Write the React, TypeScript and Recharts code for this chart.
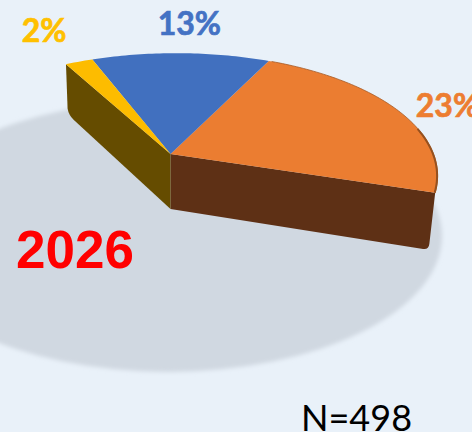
import React from "react";
import { PieChart, Pie } from "recharts";

const W = 472;
const H = 432;

const SLICES = ["Orange", "Blue", "Yellow", "Other"];
const SHARES = [23, 13, 2, 62];
const TOP_COLORS = ["#eb7d31", "#4170bf", "#fdbc00", "none"];
const SIDE_COLORS = ["#5e3015", "#654c00"];
const LABEL_COLORS = ["#ed7d31", "#4472c4", "#ffc000"];
const LABEL_REACH = [1.24, 1.3, 1.36];
const LABEL_SHIFT = [
  [-2, 7],
  [5, 0],
  [-2, 1],
];

const data = SLICES.map((name, i) => ({ name, value: SHARES[i] }));
const shadowData = [{ name: "shadow", value: 100 }];

const TILT = 0.46;
const SKEW = 0.026;
const NEAR = 0.2;
const DEPTH = 55;

// circle angle -> tilted disc, far side squeezed like a perspective view
function project(cx: number, cy: number, r: number, deg: number) {
  const a = (deg * Math.PI) / 180;
  const w = 1 + NEAR * Math.sin(a);
  return {
    x: cx + (r * Math.cos(a) + r * SKEW * Math.sin(a)) / w,
    y: cy - (r * TILT * Math.sin(a)) / w,
  };
}

function lower(cx: number, cy: number, p: { x: number; y: number }) {
  return { x: cx + (p.x - cx) * 0.975, y: cy + DEPTH + (p.y - cy) * 1.05 };
}

function arcPath(cx: number, cy: number, r: number, from: number, to: number) {
  let d = "";
  for (let deg = from; deg <= to; deg += 1) {
    const p = project(cx, cy, r, deg);
    d += `${d ? "L" : "M"}${p.x},${p.y}`;
  }
  return d;
}

function wedgePath(cx: number, cy: number, r: number, from: number, to: number) {
  const end = project(cx, cy, r, to);
  return `M${cx},${cy}L${arcPath(cx, cy, r, from, to).slice(1)}L${end.x},${end.y}Z`;
}

function SliceShape(props: any) {
  const { cx, cy, outerRadius, startAngle, endAngle, index } = props;
  if (index === 3) return null;
  const from = Math.min(startAngle, endAngle);
  const to = Math.max(startAngle, endAngle);
  const c2 = { x: cx, y: cy + DEPTH };
  let wall = null;
  if (index === 0) {
    const e = project(cx, cy, outerRadius, from);
    const e2 = lower(cx, cy, e);
    wall = (
      <path
        d={`M${cx},${cy}L${e.x},${e.y}L${e2.x + 0.8},${e2.y - 6}Q${e2.x},${e2.y + 1} ${e2.x - 7},${e2.y - 1}L${c2.x},${c2.y}Z`}
        fill={SIDE_COLORS[0]}
      />
    );
  }
  if (index === 2) {
    const y = project(cx, cy, outerRadius, to);
    const y2 = lower(cx, cy, y);
    wall = (
      <path
        d={`M${cx},${cy}L${y.x},${y.y}L${y2.x - 1},${y2.y - 6}Q${y2.x},${y2.y} ${y2.x + 5},${y2.y + 5}L${c2.x},${c2.y}Z`}
        fill={SIDE_COLORS[1]}
      />
    );
  }
  return (
    <g>
      {wall}
      <path d={wedgePath(cx, cy, outerRadius, from, to)} fill={TOP_COLORS[index]} />
      {index === 0 && (
        <>
          <path d={arcPath(cx, cy, outerRadius, from, to)} fill="none" stroke="#a65a26" strokeWidth={0.8} />
          <path d={arcPath(cx, cy, outerRadius - 0.5, from, from + 30)} fill="none" stroke="#96511f" strokeWidth={2} />
        </>
      )}
    </g>
  );
}

function ShadowShape(props: any) {
  const { cx, cy, outerRadius } = props;
  return (
    <g>
      <defs>
        <filter id="soft" x="-10%" y="-10%" width="120%" height="120%">
          <feGaussianBlur stdDeviation="2" />
        </filter>
      </defs>
      <ellipse
        cx={cx}
        cy={cy}
        rx={outerRadius}
        ry={outerRadius * 0.496}
        fill="#d0d8e1"
        filter="url(#soft)"
      />
    </g>
  );
}

function renderLabel(props: any) {
  const { cx, cy, outerRadius, midAngle, value, index } = props;
  if (index === 3) return null;
  const p = project(cx, cy, outerRadius * LABEL_REACH[index], midAngle);
  return (
    <text
      x={p.x + LABEL_SHIFT[index][0]}
      y={p.y + LABEL_SHIFT[index][1]}
      textAnchor="middle"
      dominantBaseline="central"
      fill={LABEL_COLORS[index]}
      stroke={LABEL_COLORS[index]}
      strokeWidth={0.7}
      fontFamily="Lato"
      fontWeight={700}
      fontSize={32}
    >
      {`${value}%`}
    </text>
  );
}

export default function App() {
  return (
    <div
      style={{
        position: "absolute",
        left: 0,
        top: 0,
        width: W,
        height: H,
        overflow: "hidden",
        background: "#e9f1f9",
      }}
    >
      <PieChart width={W} height={H} margin={{ top: 0, right: 0, bottom: 0, left: 0 }}>
        <Pie
          data={shadowData}
          dataKey="value"
          cx={168}
          cy={236}
          outerRadius={274}
          innerRadius={0}
          stroke="none"
          shape={ShadowShape}
          isAnimationActive={false}
        />
        <Pie
          data={data}
          dataKey="value"
          cx={170.5}
          cy={154}
          innerRadius={0}
          outerRadius={263}
          startAngle={-17.5}
          endAngle={342.5}
          stroke="none"
          shape={SliceShape}
          label={renderLabel}
          labelLine={false}
          isAnimationActive={false}
        />
      </PieChart>
      <svg width={W} height={H} style={{ position: "absolute", left: 0, top: 0 }}>
        <text x={16} y={268} fill="#ff0000" fontFamily="Liberation Sans" fontWeight={700} fontSize={53}>
          2026
        </text>
        <text x={301} y={431} fill="#000000" fontFamily="Lato" fontSize={36}>
          N=498
        </text>
      </svg>
    </div>
  );
}
